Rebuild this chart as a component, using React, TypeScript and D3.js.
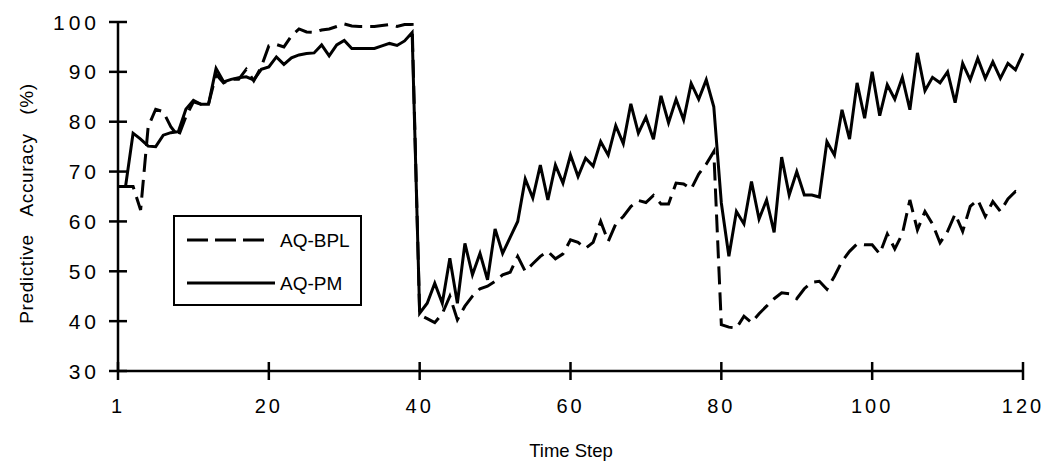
import React from "react";
import * as d3 from "d3";

const yTicks = [30, 40, 50, 60, 70, 80, 90, 100];
const xTicks = [0, 20, 40, 60, 80, 100, 120];
const xTickLabels = ["1", "20", "40", "60", "80", "100", "120"];

const aqBPL = [
  67, 67, 67, 62.3, 79, 82.5, 82, 79, 77, 81,
  84, 83.5, 83.5, 89.5, 87.8, 88.5, 88.5, 90.5, 88.2, 91,
  95.2, 95.5, 95, 97.2, 98.6, 98, 97.9, 98.4, 98.6, 99.1,
  99.6, 99.2, 99.1, 99.1, 99.1, 99.3, 99.5, 99.1, 99.5, 99.5,
  41.3, 40.5, 39.7, 41.5, 45, 40.3, 43, 45, 46.5, 47,
  48, 49.3, 49.8, 53, 50, 51.5, 53, 54, 52.5, 53.5,
  56.3, 55.8, 54.6, 55.8, 60, 56, 59.5, 61, 63, 64.2,
  63.8, 65.2, 63.5, 63.5, 67.7, 67.5, 66.5, 69.5, 71.5, 74,
  39.3, 38.8, 38.6, 41, 39.7, 41.5, 43, 44.5, 45.7, 45.5,
  44.5, 46.5, 47.8, 48, 46.4, 49, 52, 54, 55.5, 55.3,
  55.3, 53.5, 57.5, 54.5, 57.5, 64.3, 58.3, 62, 59.5, 55.7,
  58, 61.5, 58, 63, 64.3, 61, 64, 62, 64.5, 66,
  65.5,
];

const aqPM = [
  67, 67, 77.7, 76.5, 75.1, 75, 77.3, 77.8, 78, 82.5,
  84.3, 83.5, 83.5, 90.7, 88, 88.5, 88.8, 89, 88.4, 90.5,
  91, 93, 91.5, 92.8, 93.4, 93.7, 93.8, 95.4, 93.2, 95.4,
  96.3, 94.7, 94.7, 94.7, 94.7, 95.2, 95.7, 95.3, 96.2, 97.9,
  41.6, 43.6, 47.6, 43.6, 52.6, 43.6, 55.6, 49.3, 53.6, 48.3,
  58.5, 53.6, 56.8, 60, 68.5, 64.7, 71.3, 64.3, 71.3, 67.7,
  73.3, 69, 72.7, 71.1, 76, 73.3, 79.2, 75.6, 83.6, 77.7,
  80.9, 76.5, 85.2, 79.8, 84.5, 80.4, 87.7, 84.5, 88.4, 83,
  63.7, 53, 62, 59.5, 68, 60.5, 64.3, 57.8, 72.9, 65.3,
  70, 65.3, 65.3, 64.9, 76, 73.3, 82.4, 76.5, 87.8, 80.7,
  90, 81.2, 87.4, 84.5, 88.9, 82.4, 93.8, 86.2, 88.9, 87.8,
  90, 83.8, 91.7, 88.4, 92.7, 88.7, 92, 88.7, 91.7, 90.4,
  93.7,
];

const seriesNames = ["AQ-BPL", "AQ-PM"];

export default function App() {
  const W = 1049;
  const H = 467;
  const x = d3.scaleLinear().domain([0, 120]).range([118, 1023]);
  const y = d3.scaleLinear().domain([30, 100]).range([371, 22]);
  const line = d3
    .line<number>()
    .x((_, i) => x(i))
    .y((d) => y(d));
  const font = "'Liberation Sans', Arial, sans-serif";

  return (
    <svg
      width={W}
      height={H}
      style={{ position: "absolute", left: 0, top: 0, background: "#fff" }}
      fontFamily={font}
    >
      {/* axes */}
      <line x1={x(0)} x2={x(0)} y1={y(100)} y2={y(30)} stroke="#000" strokeWidth={2.5} />
      <line x1={x(0)} x2={x(120)} y1={y(30)} y2={y(30)} stroke="#000" strokeWidth={2.5} />
      {yTicks.map((t) => (
        <g key={"y" + t}>
          <line x1={x(0) - 9} x2={x(0) + 9} y1={y(t)} y2={y(t)} stroke="#000" strokeWidth={2.5} />
          <text
            x={x(0) - 18}
            y={y(t)}
            dy="0.36em"
            textAnchor="end"
            fontSize={21}
            letterSpacing={4}
            fill="#000"
          >
            {t}
          </text>
        </g>
      ))}
      {xTicks.map((t, i) => (
        <g key={"x" + t}>
          <line x1={x(t)} x2={x(t)} y1={y(30) - 9} y2={y(30) + 9} stroke="#000" strokeWidth={2.5} />
          <text
            x={x(t)}
            y={413}
            textAnchor="middle"
            fontSize={20}
            letterSpacing={3}
            fill="#000"
          >
            {xTickLabels[i]}
          </text>
        </g>
      ))}
      <text x={571} y={457} textAnchor="middle" fontSize={18.5} fill="#000">
        Time Step
      </text>
      <text
        transform={`translate(33, ${(y(100) + y(30)) / 2 + 7}) rotate(-90)`}
        textAnchor="middle"
        fontSize={19}
        wordSpacing={13}
        letterSpacing={0.6}
        fill="#000"
      >
        Predictive Accuracy (%)
      </text>

      {/* series */}
      <path d={line(aqPM) || ""} fill="none" stroke="#000" strokeWidth={3} strokeLinejoin="miter" />
      <path
        d={line(aqBPL) || ""}
        fill="none"
        stroke="#000"
        strokeWidth={3}
        strokeDasharray="18,8"
      />

      {/* legend */}
      <rect x={174} y={216} width={187} height={89} fill="#fff" stroke="#000" strokeWidth={2} />
      <line x1={187} x2={267} y1={240} y2={240} stroke="#000" strokeWidth={3} strokeDasharray="21,7" />
      <text x={280} y={247} fontSize={19} fill="#000">
        {seriesNames[0]}
      </text>
      <line x1={187} x2={275} y1={283} y2={283} stroke="#000" strokeWidth={3} />
      <text x={280} y={290} fontSize={19} fill="#000">
        {seriesNames[1]}
      </text>
    </svg>
  );
}
